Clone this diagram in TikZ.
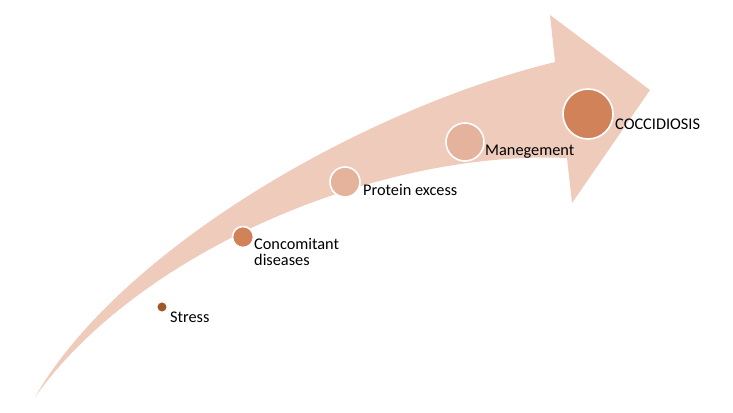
\documentclass[tikz,border=0pt]{standalone}
\usepackage{fontspec}
\setmainfont{Carlito}
\definecolor{arrowpink}{RGB}{238,203,187}
\definecolor{palepeach}{RGB}{229,178,155}
\definecolor{rust}{RGB}{210,130,88}
\definecolor{darkrust}{RGB}{160,88,40}
\tikzset{
  dot/.style={circle,draw=white,line width=1.6pt,inner sep=0pt},
  lbl/.style={anchor=base west,inner sep=0pt,align=left,
    font=\fontsize{16.3}{16}\selectfont}
}
\begin{document}
\begin{tikzpicture}[x=1pt,y=-1pt,line join=round]
  \useasboundingbox (0,0) rectangle (733,412);
  % curved arrow
  \fill[arrowpink] (35,397) .. controls (120,250) and (360,110) .. (555,62)
    -- (550,15) -- (650,90) -- (572,203) -- (567,158)
    .. controls (380,150) and (140,250) .. cycle;
  % steps
  \node[dot,fill=darkrust,minimum size=11pt] (stress) at (162,307) {};
  \node[dot,fill=rust,minimum size=21pt] (concom) at (243,237) {};
  \node[dot,fill=palepeach,minimum size=30pt] (protein) at (345,182) {};
  \node[dot,fill=palepeach,minimum size=38pt] (manag) at (465,142) {};
  \node[dot,fill=rust,minimum size=50pt] (cocci) at (588,114) {};
  \node[lbl] (tstress) at (170,322) {Stress};
  \node[lbl] (tconcom) at (254,265) {Concomitant\\diseases};
  \node[lbl] (tprotein) at (363,195) {Protein excess};
  \node[lbl] (tmanag) at (485,155) {Manegement};
  \node[lbl] (tcocci) at (615,129) {COCCIDIOSIS};
\end{tikzpicture}
\end{document}
